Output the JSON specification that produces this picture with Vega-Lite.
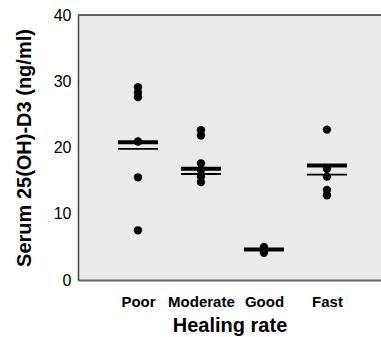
{
  "$schema": "https://vega.github.io/schema/vega-lite/v6.json",
  "autosize": "none",
  "width": 303,
  "height": 265,
  "padding": {"left": 78, "top": 15, "right": 0, "bottom": 57},
  "background": "white",
  "config": {
    "view": {"stroke": null, "fill": "#eaeaea"},
    "font": "Liberation Sans"
  },
  "datasets": {
    "pts": [
      {"rate": "Poor", "value": 29.1},
      {"rate": "Poor", "value": 28.3},
      {"rate": "Poor", "value": 27.6},
      {"rate": "Poor", "value": 20.9},
      {"rate": "Poor", "value": 15.5},
      {"rate": "Poor", "value": 7.5},
      {"rate": "Moderate", "value": 22.6},
      {"rate": "Moderate", "value": 21.8},
      {"rate": "Moderate", "value": 17.6},
      {"rate": "Moderate", "value": 16.6},
      {"rate": "Moderate", "value": 15.6},
      {"rate": "Moderate", "value": 14.8},
      {"rate": "Good", "value": 5.0},
      {"rate": "Good", "value": 4.5},
      {"rate": "Good", "value": 4.1},
      {"rate": "Fast", "value": 22.7},
      {"rate": "Fast", "value": 16.8},
      {"rate": "Fast", "value": 15.6},
      {"rate": "Fast", "value": 13.6},
      {"rate": "Fast", "value": 12.8}
    ],
    "lines": [
      {"rate": "Poor", "mean": 20.8, "median": 19.8},
      {"rate": "Moderate", "mean": 16.8, "median": 16.0},
      {"rate": "Good", "mean": 4.6, "median": 4.6},
      {"rate": "Fast", "mean": 17.3, "median": 15.9}
    ]
  },
  "layer": [
    {
      "data": {"name": "pts"},
      "mark": {"type": "point", "filled": true, "color": "black", "opacity": 1, "size": 70},
      "encoding": {
        "x": {
          "field": "rate",
          "type": "nominal",
          "sort": ["Poor", "Moderate", "Good", "Fast"],
          "scale": {"type": "point", "padding": 0.905, "align": 0.526},
          "axis": {
            "title": "Healing rate",
            "titleFontSize": 20,
            "titleFontWeight": "bold",
            "titleColor": "black",
            "titlePadding": 6,
            "labelAngle": 0,
            "labelFontSize": 15,
            "labelFontWeight": "bold",
            "labelColor": "black",
            "labelPadding": 14,
            "ticks": false,
            "domainColor": "#666",
            "domainWidth": 2,
            "grid": false
          }
        },
        "y": {
          "field": "value",
          "type": "quantitative",
          "scale": {"domain": [0, 40], "nice": false},
          "axis": {
            "title": "Serum 25(OH)-D3 (ng/ml)",
            "titleFontSize": 20,
            "titleFontWeight": "bold",
            "titleColor": "black",
            "titlePadding": 19,
            "values": [0, 10, 20, 30, 40],
            "labelFontSize": 16,
            "labelColor": "black",
            "labelPadding": 7,
            "ticks": false,
            "grid": false,
            "domainColor": "#444",
            "domainWidth": 1.5
          }
        }
      }
    },
    {
      "data": {"name": "lines"},
      "mark": {"type": "tick", "color": "black", "size": 40, "thickness": 4, "opacity": 1},
      "encoding": {
        "x": {"field": "rate", "type": "nominal", "sort": ["Poor", "Moderate", "Good", "Fast"]},
        "y": {"field": "mean", "type": "quantitative"}
      }
    },
    {
      "data": {"name": "lines"},
      "mark": {"type": "tick", "color": "black", "size": 40, "thickness": 1.8, "opacity": 1},
      "encoding": {
        "x": {"field": "rate", "type": "nominal", "sort": ["Poor", "Moderate", "Good", "Fast"]},
        "y": {"field": "median", "type": "quantitative"}
      }
    },
    {
      "data": {"values": [{"top": 40}]},
      "mark": {"type": "rule", "color": "#333", "strokeWidth": 1.5},
      "encoding": {"y": {"field": "top", "type": "quantitative"}}
    }
  ]
}
